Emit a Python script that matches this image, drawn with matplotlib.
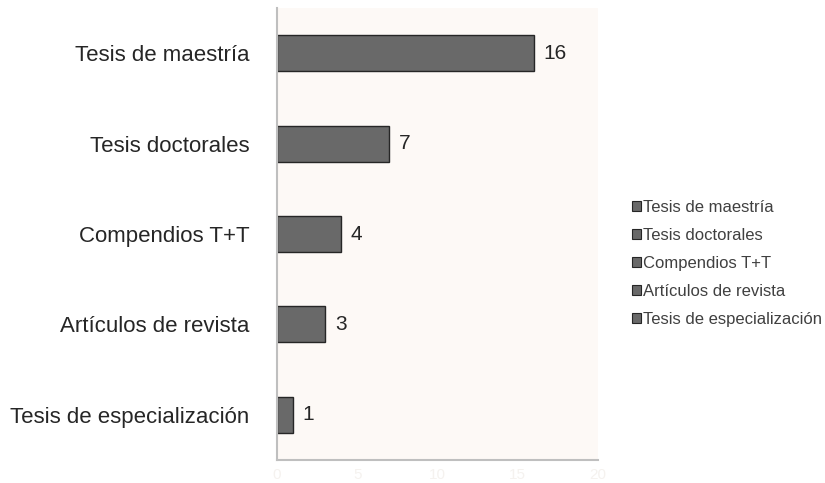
import matplotlib
matplotlib.use("Agg")
import matplotlib.pyplot as plt
from matplotlib.patches import Patch

plt.rcParams['font.family'] = ['Liberation Sans', 'DejaVu Sans']

categories = ["Tesis de maestría", "Tesis doctorales", "Compendios T+T",
              "Artículos de revista", "Tesis de especialización"]
values = [16, 7, 4, 3, 1]
xticks = [0, 5, 10, 15, 20]

fig = plt.figure(figsize=(8.25, 4.83), dpi=100)
ax = fig.add_axes([0.3358, 0.0476, 0.3891, 0.9358])
ax.set_facecolor("#fdf9f6")

ypos = list(range(len(categories)))[::-1]
ax.barh(ypos, values, height=0.4, color="#696969", edgecolor="#262626", linewidth=1)
for y, v in zip(ypos, values):
    ax.text(v + 0.6, y, str(v), va="center", ha="left", fontsize=15, color="#262626")

ax.set_xlim(0, 20)
ax.set_ylim(-0.5, 4.5)
ax.set_xticks(xticks)
ax.set_xticklabels([str(t) for t in xticks], color="#f5f2ef", fontsize=11)
ax.set_yticks(ypos)
ax.set_yticklabels(categories, fontsize=16, color="#262626")
ax.tick_params(axis="both", length=0)
ax.tick_params(axis="x", pad=6)
ax.tick_params(axis="y", pad=20)

for s in ["top", "right"]:
    ax.spines[s].set_visible(False)
ax.spines["left"].set_color("#bfbfbf")
ax.spines["left"].set_linewidth(1.5)
ax.spines["bottom"].set_color("#bfbfbf")
ax.spines["bottom"].set_linewidth(1.5)

handles = [Patch(facecolor="#696969", edgecolor="#262626", linewidth=0.8) for _ in categories]
fig.legend(handles, categories, loc="center left", bbox_to_anchor=(0.7473, 0.455),
           frameon=False, fontsize=12, handlelength=0.55, handleheight=0.55,
           handletextpad=0.15, labelspacing=0.78, labelcolor="#404040")

fig.savefig("out.png", dpi=100)
